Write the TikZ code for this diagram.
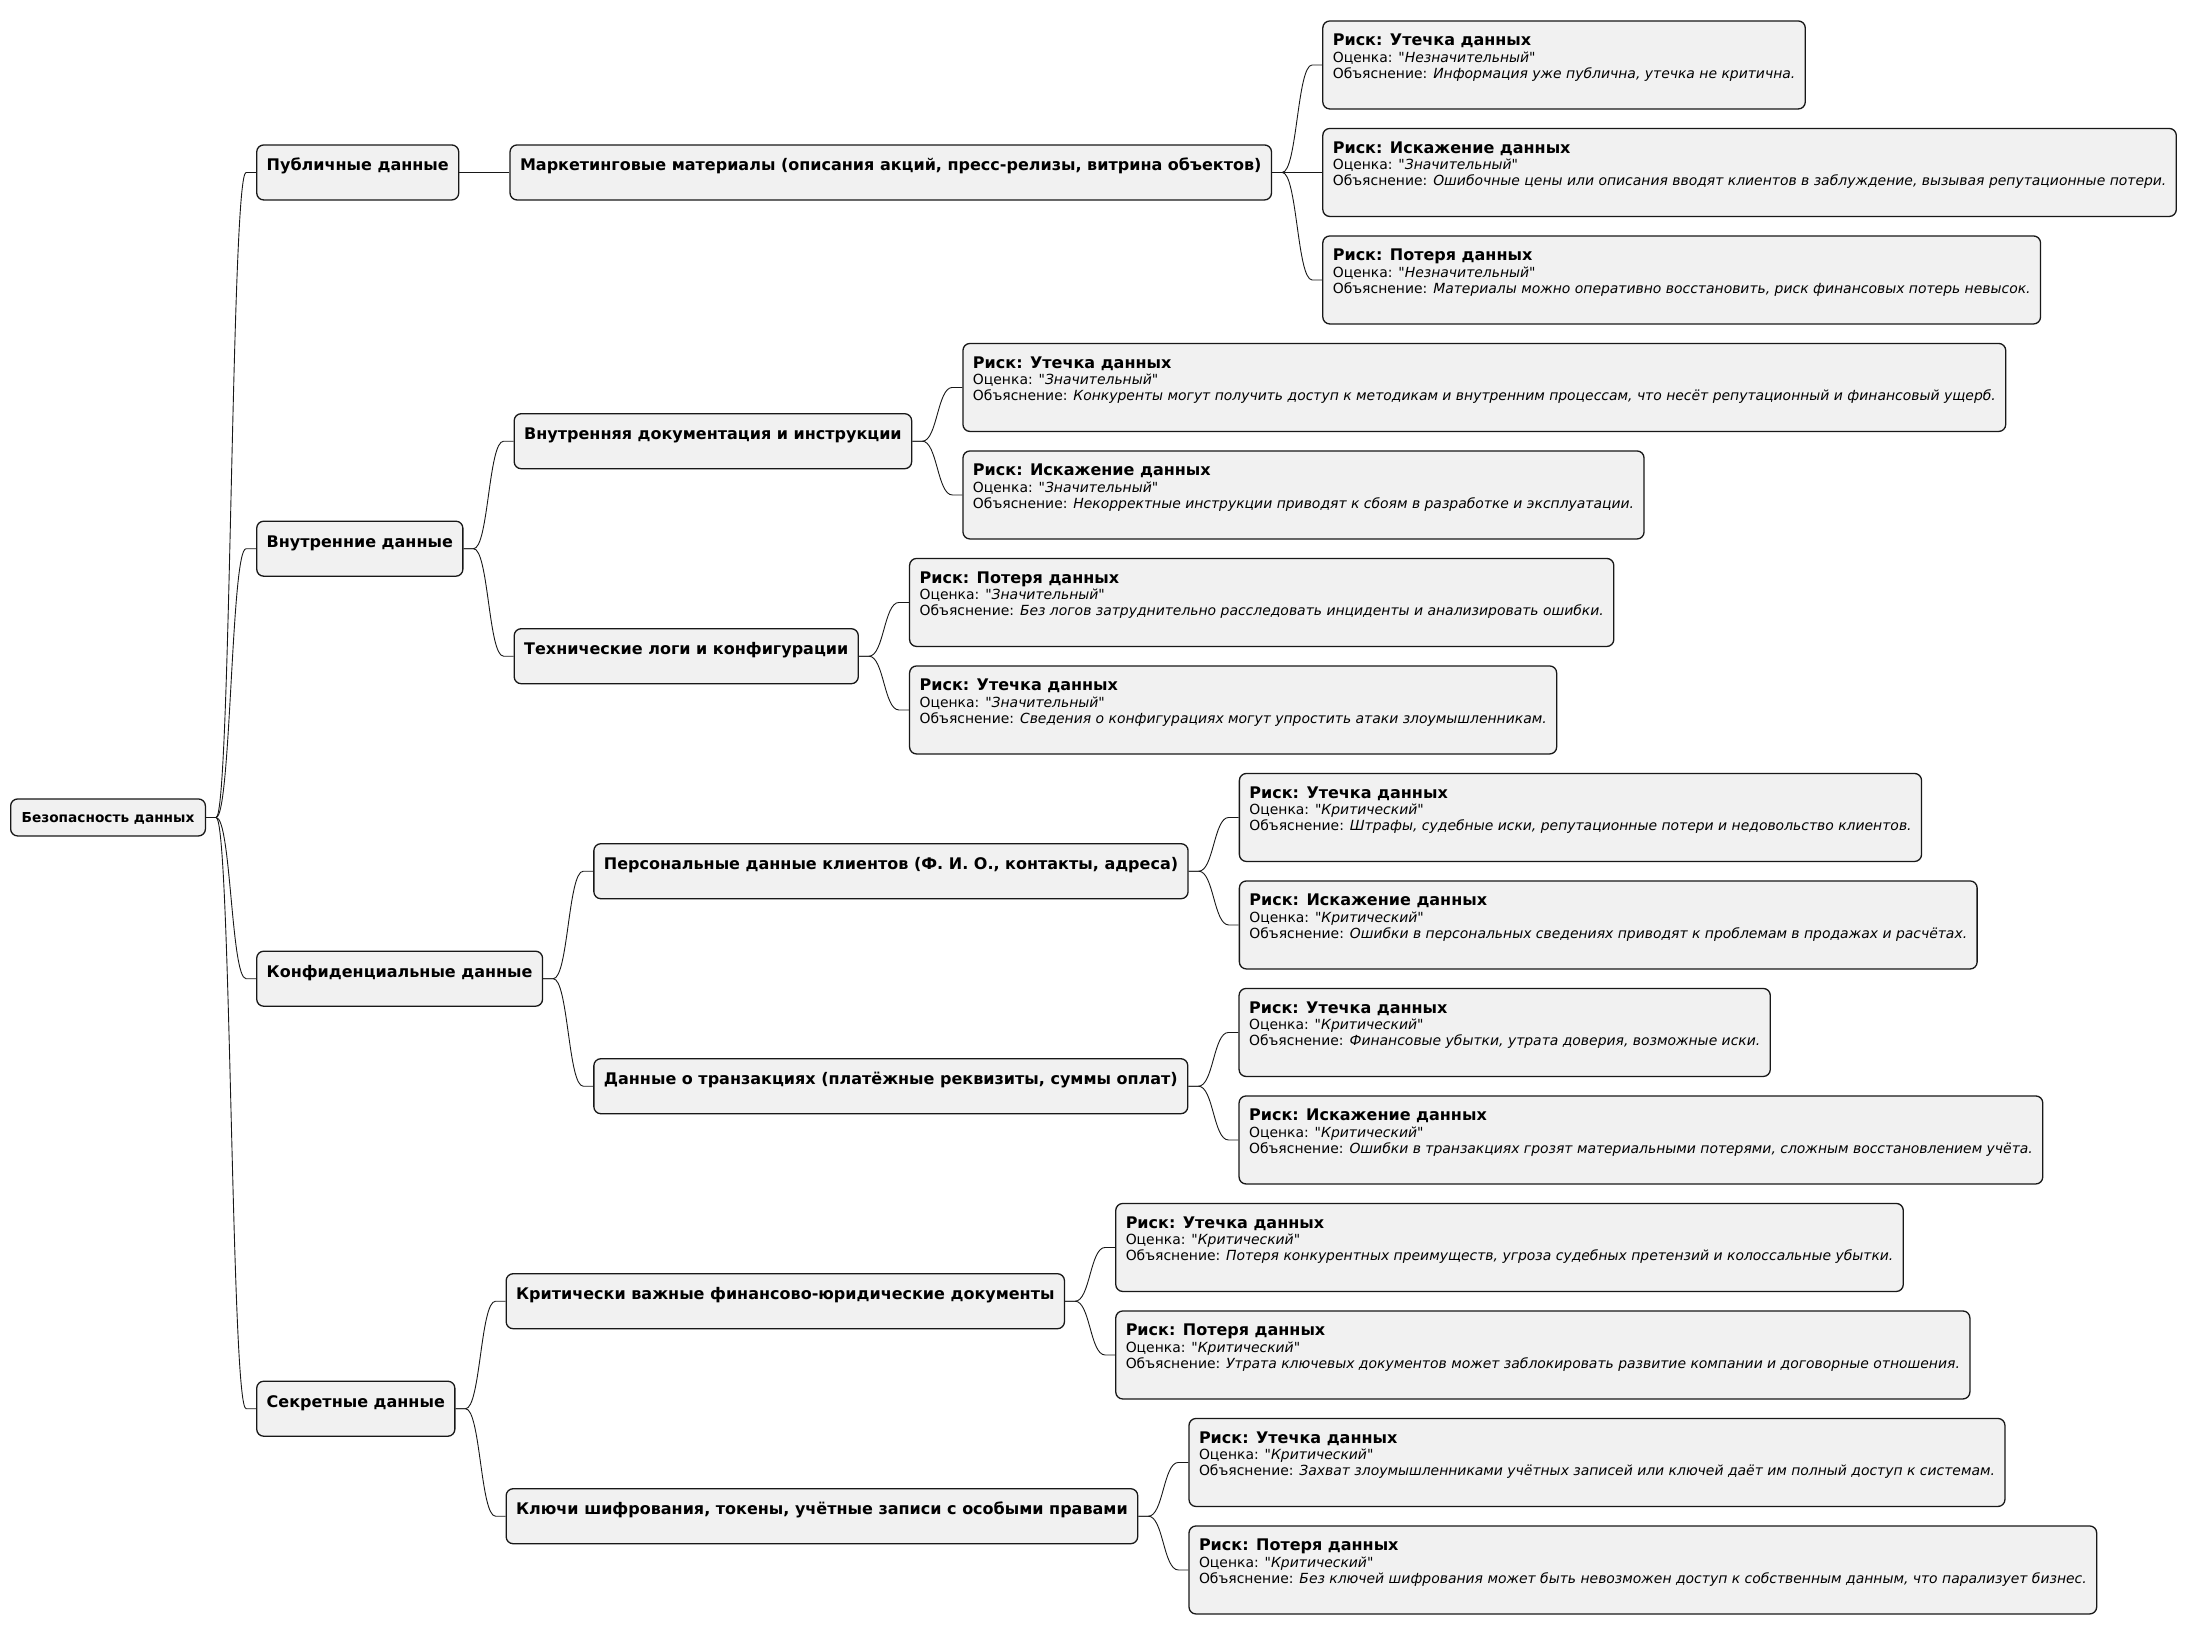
\documentclass[tikz,border=0pt]{standalone}
\usepackage{fontspec}
\setmainfont{DejaVu Sans}[Ligatures=TeXOff]
\usetikzlibrary{calc}
\definecolor{bg}{HTML}{F1F1F1}
\definecolor{bd}{HTML}{181818}
\newcommand\qq{\char34\relax}
\newcommand\rk[3]{\vtop{\baselineskip=16.25pt\lineskiplimit=-\maxdimen\lineskip=0pt
 \hbox{\fontsize{16}{16}\selectfont\bfseries Риск: #1}
 \hbox{\fontsize{13.93}{14}\selectfont Оценка: \qq\textit{#2}\qq}
 \hbox{\fontsize{13.93}{14}\selectfont Объяснение: \textit{#3}}}}
\newcommand\conn[2]{\draw[conn] let \p1=(#1.east), \p2=(#2.west) in (\p1) -- (\x1+10pt,\y1) .. controls ({(\x1+\x2)/2},\y1) and ({(\x1+\x2)/2},\y2) .. (\x2-10pt,\y2) -- (\p2);}
\tikzset{
 box/.style={draw=bd, fill=bg, line width=1.3pt, rounded corners=7pt, inner xsep=10pt, inner ysep=0pt, anchor=north west},
 lvl/.style={box, font=\fontsize{16}{16}\selectfont\bfseries, text height=26pt, text depth=29pt, xshift=50pt},
 risk/.style={box, text height=25pt, text depth=63pt, xshift=50pt},
 rootbox/.style={box, font=\fontsize{13.7}{13.7}\selectfont\bfseries, text height=23.7pt, text depth=13.3pt, inner xsep=11pt},
 conn/.style={draw=bd, line width=0.9pt}
}
\begin{document}
\begin{tikzpicture}[x=1pt,y=-1pt]
\useasboundingbox (0,0) rectangle (2187,1633);
\node[rootbox] (root) at (10,798.3) {Безопасность данных};
% level 1
\node[lvl] (a) at (root.east |- 0,144.3) {Публичные данные};
\node[lvl] (b) at (root.east |- 0,520.55) {Внутренние данные};
\node[lvl] (c) at (root.east |- 0,950.55) {Конфиденциальные данные};
\node[lvl] (d) at (root.east |- 0,1380.55) {Секретные данные};
% level 2
\node[lvl] (a1) at (a.east |- 0,144.3) {Маркетинговые материалы (описания акций, пресс-релизы, витрина объектов)};
\node[lvl] (b1) at (b.east |- 0,413.05) {Внутренняя документация и инструкции};
\node[lvl] (b2) at (b.east |- 0,628.05) {Технические логи и конфигурации};
\node[lvl] (c1) at (c.east |- 0,843.05) {Персональные данные клиентов (Ф. И. О., контакты, адреса)};
\node[lvl] (c2) at (c.east |- 0,1058.05) {Данные о транзакциях (платёжные реквизиты, суммы оплат)};
\node[lvl] (d1) at (d.east |- 0,1273.05) {Критически важные финансово-юридические документы};
\node[lvl] (d2) at (d.east |- 0,1488.05) {Ключи шифрования, токены, учётные записи с особыми правами};
% risks
\node[risk] (r1) at (a1.east |- 0,20.3) {\rk{Утечка данных}{Незначительный}{Информация уже публична, утечка не критична.}};
\node[risk] (r2) at (a1.east |- 0,127.8) {\rk{Искажение данных}{Значительный}{Ошибочные цены или описания вводят клиентов в заблуждение, вызывая репутационные потери.}};
\node[risk] (r3) at (a1.east |- 0,235.3) {\rk{Потеря данных}{Незначительный}{Материалы можно оперативно восстановить, риск финансовых потерь невысок.}};
\node[risk] (r4) at (b1.east |- 0,342.8) {\rk{Утечка данных}{Значительный}{Конкуренты могут получить доступ к методикам и внутренним процессам, что несёт репутационный и финансовый ущерб.}};
\node[risk] (r5) at (b1.east |- 0,450.3) {\rk{Искажение данных}{Значительный}{Некорректные инструкции приводят к сбоям в разработке и эксплуатации.}};
\node[risk] (r6) at (b2.east |- 0,557.8) {\rk{Потеря данных}{Значительный}{Без логов затруднительно расследовать инциденты и анализировать ошибки.}};
\node[risk] (r7) at (b2.east |- 0,665.3) {\rk{Утечка данных}{Значительный}{Сведения о конфигурациях могут упростить атаки злоумышленникам.}};
\node[risk] (r8) at (c1.east |- 0,772.8) {\rk{Утечка данных}{Критический}{Штрафы, судебные иски, репутационные потери и недовольство клиентов.}};
\node[risk] (r9) at (c1.east |- 0,880.3) {\rk{Искажение данных}{Критический}{Ошибки в персональных сведениях приводят к проблемам в продажах и расчётах.}};
\node[risk] (r10) at (c2.east |- 0,987.8) {\rk{Утечка данных}{Критический}{Финансовые убытки, утрата доверия, возможные иски.}};
\node[risk] (r11) at (c2.east |- 0,1095.3) {\rk{Искажение данных}{Критический}{Ошибки в транзакциях грозят материальными потерями, сложным восстановлением учёта.}};
\node[risk] (r12) at (d1.east |- 0,1202.8) {\rk{Утечка данных}{Критический}{Потеря конкурентных преимуществ, угроза судебных претензий и колоссальные убытки.}};
\node[risk] (r13) at (d1.east |- 0,1310.3) {\rk{Потеря данных}{Критический}{Утрата ключевых документов может заблокировать развитие компании и договорные отношения.}};
\node[risk] (r14) at (d2.east |- 0,1417.8) {\rk{Утечка данных}{Критический}{Захват злоумышленниками учётных записей или ключей даёт им полный доступ к системам.}};
\node[risk] (r15) at (d2.east |- 0,1525.3) {\rk{Потеря данных}{Критический}{Без ключей шифрования может быть невозможен доступ к собственным данным, что парализует бизнес.}};
% connectors
\conn{root}{a}\conn{root}{b}\conn{root}{c}\conn{root}{d}
\conn{a}{a1}\conn{b}{b1}\conn{b}{b2}\conn{c}{c1}\conn{c}{c2}\conn{d}{d1}\conn{d}{d2}
\conn{a1}{r1}\conn{a1}{r2}\conn{a1}{r3}
\conn{b1}{r4}\conn{b1}{r5}\conn{b2}{r6}\conn{b2}{r7}
\conn{c1}{r8}\conn{c1}{r9}\conn{c2}{r10}\conn{c2}{r11}
\conn{d1}{r12}\conn{d1}{r13}\conn{d2}{r14}\conn{d2}{r15}
\end{tikzpicture}
\end{document}
